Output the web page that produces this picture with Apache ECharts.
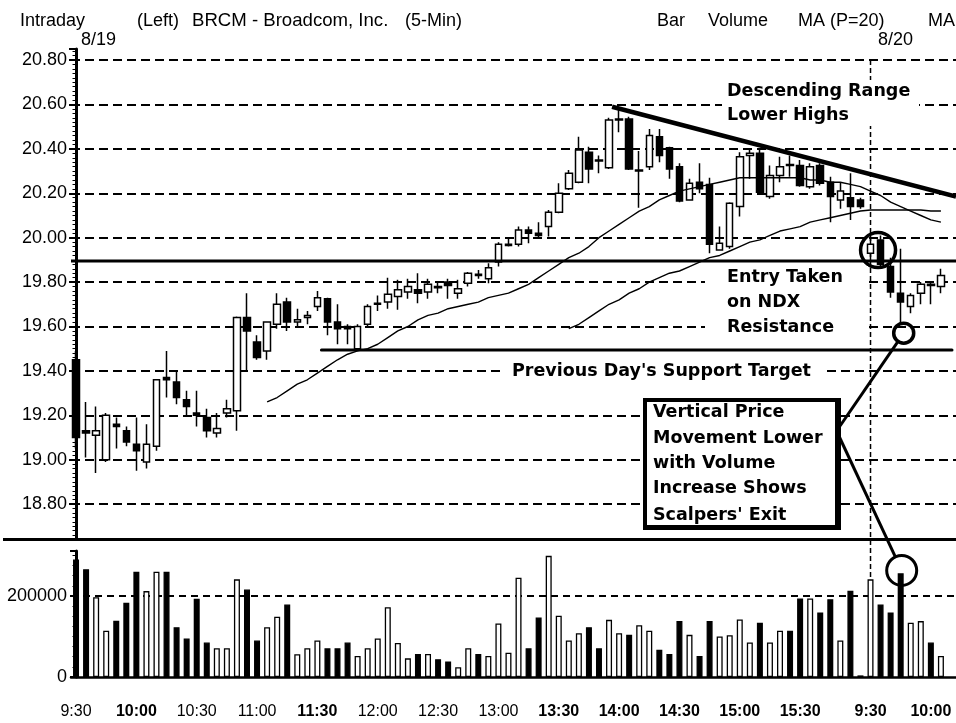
<!DOCTYPE html>
<html>
<head>
<meta charset="utf-8">
<title>BRCM - Broadcom, Inc. (5-Min)</title>
<script src="https://cdn.jsdelivr.net/npm/echarts@6.0.0/dist/echarts.min.js"></script>
<style>
  html, body { margin: 0; padding: 0; background: #fff; }
  #chart { width: 956px; height: 723px; }
</style>
</head>
<body>
<div id="chart"></div>
<script>
// ---- Trading sessions (5-minute bars) ----
const sessions = [
  ['8/19', 9 * 60 + 30, 79],   // 9:30 .. 16:00
  ['8/20', 9 * 60 + 30, 9]     // 9:30 .. 10:10
];
const categories = [];
sessions.forEach(([day, start, n]) => {
  for (let k = 0; k < n; k++) {
    const m = start + 5 * k;
    categories.push(day + ' ' + Math.floor(m / 60) + ':' + String(m % 60).padStart(2, '0'));
  }
});

// ---- Time-axis labels ----
const tickLabels = ['8/19 9:30', '8/19 10:00', '8/19 10:30', '8/19 11:00', '8/19 11:30',
  '8/19 12:00', '8/19 12:30', '8/19 13:00', '8/19 13:30', '8/19 14:00', '8/19 14:30',
  '8/19 15:00', '8/19 15:30', '8/20 9:30', '8/20 10:00'];
const boldTickLabels = ['8/19 10:00', '8/19 11:30', '8/19 13:30', '8/19 14:00', '8/19 14:30',
  '8/19 15:00', '8/19 15:30', '8/20 9:30', '8/20 10:00'];
const dayBreak = '8/20 9:30';

// ---- OHLC ----
const opens = [19.45,19.13,19.11,19.00,19.16,19.13,19.07,18.99,19.06,19.37,
  19.35,19.27,19.21,19.19,19.12,19.21,19.22,19.64,19.53,19.49,
  19.61,19.71,19.62,19.64,19.69,19.725,19.62,19.60,19.50,19.61,
  19.70,19.71,19.735,19.755,19.765,19.755,19.78,19.80,19.75,19.795,
  19.835,19.815,19.89,19.965,19.97,20.035,20.02,20.05,20.115,20.22,
  20.25,20.385,20.35,20.315,20.53,20.535,20.30,20.32,20.455,20.405,
  20.32,20.17,20.25,20.24,19.945,19.96,20.14,20.37,20.38,20.185,
  20.28,20.33,20.325,20.23,20.325,20.25,20.17,20.18,20.17,19.93,
  19.99,19.87,19.75,19.69,19.75,19.79,19.78];
const highs = [19.49,19.26,19.24,19.21,19.19,19.15,19.19,19.16,19.36,19.49,
  19.40,19.31,19.31,19.23,19.21,19.27,19.645,19.75,19.56,19.62,
  19.75,19.73,19.68,19.67,19.76,19.73,19.70,19.61,19.61,19.70,
  19.74,19.82,19.81,19.815,19.84,19.815,19.80,19.815,19.81,19.845,
  19.855,19.885,19.98,19.995,20.05,20.05,20.07,20.125,20.245,20.305,
  20.455,20.41,20.37,20.54,20.575,20.545,20.39,20.49,20.49,20.41,
  20.335,20.265,20.335,20.27,20.05,20.16,20.385,20.40,20.395,20.325,
  20.365,20.37,20.35,20.335,20.335,20.275,20.25,20.29,20.18,20.00,
  20.01,19.91,19.95,19.75,19.80,19.80,19.86];
const lows = [19.05,19.01,18.94,18.99,19.05,19.06,18.95,18.96,19.04,19.28,
  19.25,19.20,19.15,19.10,19.10,19.19,19.13,19.40,19.45,19.45,
  19.59,19.58,19.60,19.61,19.67,19.56,19.52,19.52,19.49,19.60,
  19.67,19.68,19.675,19.725,19.705,19.725,19.75,19.725,19.725,19.78,
  19.815,19.795,19.87,19.96,19.96,19.975,20.00,20.005,20.11,20.215,
  20.245,20.245,20.29,20.31,20.475,20.305,20.135,20.305,20.34,20.265,
  20.16,20.17,20.20,19.93,19.945,19.95,20.095,20.265,20.20,20.175,
  20.25,20.275,20.23,20.22,20.235,20.07,20.13,20.08,20.13,19.90,
  19.86,19.73,19.61,19.66,19.70,19.70,19.75];
const closes = [19.10,19.12,19.13,19.20,19.15,19.08,19.04,19.07,19.36,19.36,
  19.28,19.24,19.20,19.13,19.14,19.23,19.64,19.58,19.46,19.62,
  19.70,19.62,19.63,19.65,19.73,19.62,19.59,19.59,19.60,19.69,
  19.705,19.745,19.765,19.78,19.75,19.79,19.775,19.785,19.77,19.84,
  19.83,19.865,19.97,19.97,20.035,20.02,20.01,20.115,20.20,20.29,
  20.395,20.31,20.345,20.53,20.535,20.31,20.305,20.46,20.37,20.31,
  20.165,20.245,20.22,19.97,19.975,20.155,20.365,20.38,20.205,20.28,
  20.32,20.325,20.235,20.32,20.245,20.185,20.21,20.14,20.14,19.97,
  19.88,19.755,19.71,19.74,19.79,19.785,19.83];

// ---- Volume ----
const volumes = [290000,266000,197000,114000,139000,183000,260000,212000,260000,260000,
  123000,95000,193000,85000,71000,71000,241000,216000,90000,123000,
  149000,179000,56000,71000,90000,71000,71000,85000,52000,71000,
  95000,172000,84000,46000,57000,57000,44000,38000,24000,71000,
  57000,52000,132000,60000,245000,71000,147000,299000,151000,90000,
  108000,123000,71000,141000,108000,104000,128000,114000,67000,57000,
  138000,104000,52000,138000,100000,103000,142000,85000,134000,85000,
  114000,114000,194000,194000,159000,192000,90000,213000,4000,241000,
  179000,159000,256000,134000,138000,85000,52000];

// ---- Moving averages (first bar of each line, then its values) ----
const ma20Start = 19;
const ma20 = [19.26,19.28,19.31,19.34,19.36,19.39,19.42,19.45,19.475,19.49,
  19.50,19.52,19.55,19.58,19.60,19.63,19.65,19.66,19.68,19.69,
  19.70,19.71,19.73,19.74,19.75,19.77,19.79,19.82,19.85,19.88,
  19.91,19.93,19.96,20.00,20.03,20.06,20.09,20.12,20.14,20.17,
  20.19,20.21,20.22,20.23,20.24,20.25,20.26,20.27,20.27,20.27,
  20.27,20.27,20.27,20.27,20.26,20.26,20.25,20.25,20.24,20.23,
  20.21,20.19,20.16,20.14,20.12,20.10,20.08,20.07];
const ma50Start = 49;
const ma50 = [19.59,19.61,19.64,19.67,19.70,19.72,19.75,19.77,19.80,19.82,
  19.84,19.85,19.87,19.89,19.91,19.92,19.94,19.96,19.98,19.99,
  20.01,20.03,20.04,20.05,20.07,20.08,20.09,20.10,20.11,20.12,
  20.125,20.125,20.125,20.125,20.125,20.125,20.12,20.12];

// ---- Annotations, in (bar position, price) / (bar position, volume) ----
const trendLine = [[53.3, 20.59], [87.5, 20.185]];
const entryLine = [[-0.5, 19.895], [87.5, 19.895]];
const supportLine = [[24.4, 19.494], [87.1, 19.494]];
const priceCircles = [[79.75, 19.944], [82.3, 19.57]];
const volumeCircle = [[82.1, 263000]];

// ---- Build series data ----
const candleData = opens.map((o, i) => [o, closes[i], lows[i], highs[i]]);
const volumeData = volumes.map((v, i) => ({
  value: v,
  itemStyle: { color: closes[i] >= opens[i] ? '#fff' : '#000' }
}));
const pad = (start, arr) => new Array(start).fill(null).concat(arr);

const FONT = '"Liberation Sans", Arial, sans-serif';
const NOTE_FONT = 'bold 17.5px "DejaVu Sans", sans-serif';
const isTick = (index, value) => tickLabels.includes(value);

const chart = echarts.init(document.getElementById('chart'), null, { renderer: 'canvas' });

const option = {
  animation: false,
  backgroundColor: '#fff',
  grid: [
    { left: 71, right: 0, top: 49, height: 490.6, outerBoundsMode: 'none' },
    { left: 71, right: 0, top: 551, height: 126, outerBoundsMode: 'none' }
  ],
  xAxis: [
    { type: 'category', gridIndex: 0, data: categories, boundaryGap: true,
      axisLine: { show: false }, axisTick: { show: false }, axisLabel: { show: false },
      splitLine: { show: false } },
    { type: 'value', gridIndex: 0, min: -0.5, max: categories.length - 0.5, show: false },
    { type: 'category', gridIndex: 1, data: categories, boundaryGap: true, position: 'bottom',
      axisLine: { lineStyle: { color: '#000', width: 2.5 } },
      axisTick: { alignWithLabel: true, interval: isTick, length: 14,
        lineStyle: { color: '#000', width: 2 } },
      axisLabel: {
        interval: isTick, margin: 27, color: '#000',
        fontFamily: FONT, fontSize: 16,
        formatter: (v) => {
          const t = v.split(' ')[1];
          return boldTickLabels.includes(v) ? '{b|' + t + '}' : '{n|' + t + '}';
        },
        rich: {
          b: { fontWeight: 'bold', fontSize: 16, color: '#000', fontFamily: FONT },
          n: { fontWeight: 'normal', fontSize: 16, color: '#000', fontFamily: FONT }
        }
      },
      splitLine: { show: false } },
    { type: 'category', gridIndex: 1, data: categories, boundaryGap: true, position: 'bottom',
      axisLine: { show: false },
      axisTick: { alignWithLabel: true, interval: 0, length: 7,
        lineStyle: { color: '#000', width: 1.5 } },
      axisLabel: { show: false }, splitLine: { show: false } },
    { type: 'value', gridIndex: 1, min: -0.5, max: categories.length - 0.5, show: false }
  ],
  yAxis: [
    { type: 'value', gridIndex: 0, min: 18.64, max: 20.85, splitNumber: 11,
      axisLine: { show: true, lineStyle: { color: '#000', width: 3 } },
      axisTick: { show: true, length: 7, lineStyle: { color: '#000', width: 2 } },
      minorTick: { show: true, splitNumber: 10, length: 3.5, lineStyle: { color: '#000', width: 1 } },
      axisLabel: { color: '#000', fontFamily: FONT, fontSize: 18, margin: 4,
        showMinLabel: false, showMaxLabel: false, formatter: (v) => v.toFixed(2) },
      splitLine: { show: true, showMinLine: false, showMaxLine: false,
        lineStyle: { color: '#000', width: 2, type: [9, 5] } } },
    { type: 'value', gridIndex: 1, min: 0, max: 311000, interval: 200000,
      axisLine: { show: true, lineStyle: { color: '#000', width: 3 } },
      axisTick: { show: true, length: 6, lineStyle: { color: '#000', width: 2 } },
      minorTick: { show: true, splitNumber: 8, length: 3.5, lineStyle: { color: '#000', width: 1 } },
      axisLabel: { color: '#000', fontFamily: FONT, fontSize: 18, margin: 4, showMaxLabel: false,
        formatter: (v) => String(Math.round(v)) },
      splitLine: { show: true, showMinLine: false, showMaxLine: false,
        lineStyle: { color: '#000', width: 2, type: [7, 5] } } }
  ],
  series: [
    { name: 'Bar', type: 'candlestick', xAxisIndex: 0, yAxisIndex: 0, data: candleData,
      barWidth: 7, z: 3, silent: true,
      itemStyle: { color: '#fff', color0: '#000', borderColor: '#000', borderColor0: '#000', borderWidth: 1.5 } },
    { name: 'MA (P=20)', type: 'line', xAxisIndex: 0, yAxisIndex: 0, data: pad(ma20Start, ma20),
      symbol: 'none', silent: true, z: 4, lineStyle: { color: '#000', width: 1.4 } },
    { name: 'MA (P=50)', type: 'line', xAxisIndex: 0, yAxisIndex: 0, data: pad(ma50Start, ma50),
      symbol: 'none', silent: true, z: 4, lineStyle: { color: '#000', width: 1.4 } },
    { name: 'Descending Range', type: 'line', xAxisIndex: 1, yAxisIndex: 0, data: trendLine,
      symbol: 'none', silent: true, z: 5, lineStyle: { color: '#000', width: 4.5 } },
    { name: 'Entry', type: 'line', xAxisIndex: 1, yAxisIndex: 0, data: entryLine,
      symbol: 'none', silent: true, z: 5, lineStyle: { color: '#000', width: 3 } },
    { name: 'Support', type: 'line', xAxisIndex: 1, yAxisIndex: 0, data: supportLine,
      symbol: 'none', silent: true, z: 5, lineStyle: { color: '#000', width: 3, cap: 'round' } },
    { name: 'Highlights', type: 'scatter', xAxisIndex: 1, yAxisIndex: 0, data: priceCircles,
      silent: true, z: 6,
      symbolSize: (val, p) => (p.dataIndex === 0 ? 35 : 20),
      itemStyle: { color: 'rgba(0,0,0,0)', borderColor: '#000', borderWidth: 3.5, opacity: 1 } },
    { name: 'Volume', type: 'bar', xAxisIndex: 2, yAxisIndex: 1, data: volumeData,
      barWidth: 6, silent: true, z: 3,
      itemStyle: { borderColor: '#000', borderWidth: 1.3 } },
    { name: 'Volume highlight', type: 'scatter', xAxisIndex: 4, yAxisIndex: 1, data: volumeCircle,
      silent: true, z: 6, symbolSize: 30,
      itemStyle: { color: 'rgba(0,0,0,0)', borderColor: '#000', borderWidth: 3, opacity: 1 } }
  ]
};
chart.setOption(option);

// ---- Overlay: header, notes, callout box and connectors ----
function text(x, y, str, font, align, z) {
  return { type: 'text', x: x, y: y, z: z || 11, silent: true,
    style: { text: str, font: font, fill: '#000', align: align || 'left', verticalAlign: 'middle' } };
}
function rect(x, y, w, h, fill, z) {
  return { type: 'rect', z: z || 10, silent: true, shape: { x: x, y: y, width: w, height: h },
    style: { fill: fill, stroke: null } };
}
function line(x1, y1, x2, y2, width, dash, z) {
  return { type: 'line', z: z || 12, silent: true, shape: { x1: x1, y1: y1, x2: x2, y2: y2 },
    style: { stroke: '#000', lineWidth: width, lineDash: dash || null } };
}
function edgePoint(from, center, r) {
  const dx = from[0] - center[0], dy = from[1] - center[1];
  const d = Math.sqrt(dx * dx + dy * dy);
  return [center[0] + dx / d * r, center[1] + dy / d * r];
}

const HEAD = '18px ' + FONT;
const dayX = chart.convertToPixel({ xAxisIndex: 0 }, dayBreak);
const smallCircle = chart.convertToPixel({ seriesIndex: 6 }, priceCircles[1]);
const volCircle = chart.convertToPixel({ seriesIndex: 8 }, volumeCircle[0]);
const c1From = [840, 426], c2From = [838, 434];
const c1To = edgePoint(c1From, smallCircle, 10);
const c2To = edgePoint(c2From, volCircle, 15);

const graphics = [
  // header
  text(20, 21, 'Intraday', HEAD),
  text(137, 21, '(Left)', HEAD),
  text(192, 21, 'BRCM - Broadcom, Inc.', '18.6px ' + FONT),
  text(405, 21, '(5-Min)', HEAD),
  text(657, 21, 'Bar', HEAD),
  text(708, 21, 'Volume', HEAD),
  text(798, 21, 'MA (P=20)', HEAD),
  text(928, 21, 'MA', HEAD),
  text(98.5, 40.5, '8/19', HEAD, 'center'),
  text(895.5, 40.5, '8/20', HEAD, 'center'),
  // panel separator and session break
  line(3, 539.5, 956, 539.5, 3, null, 12),
  line(dayX, 60, dayX, 677, 1.5, [5, 3], 1),
  // notes
  rect(722, 80, 197, 46, '#fff'),
  text(727, 91, 'Descending Range', NOTE_FONT),
  text(727, 115, 'Lower Highs', NOTE_FONT),
  rect(705, 266, 163, 72, '#fff'),
  text(727, 277, 'Entry Taken', NOTE_FONT),
  text(727, 302.5, 'on NDX', NOTE_FONT),
  text(727, 327.5, 'Resistance', NOTE_FONT),
  rect(505, 361, 322, 21, '#fff'),
  text(512, 371, "Previous Day's Support Target", NOTE_FONT),
  // callout box
  rect(643, 398, 198, 132, '#000', 10),
  rect(647, 402, 188, 123, '#fff', 10),
  text(653, 412.5, 'Vertical Price', NOTE_FONT),
  text(653, 438.3, 'Movement Lower', NOTE_FONT),
  text(653, 463.8, 'with Volume', NOTE_FONT),
  text(653, 488.3, 'Increase Shows', NOTE_FONT),
  text(653, 515, "Scalpers' Exit", NOTE_FONT),
  // connectors
  line(c1From[0], c1From[1], c1To[0], c1To[1], 3),
  line(c2From[0], c2From[1], c2To[0], c2To[1], 3)
];
chart.setOption({ graphic: graphics });
</script>
</body>
</html>
